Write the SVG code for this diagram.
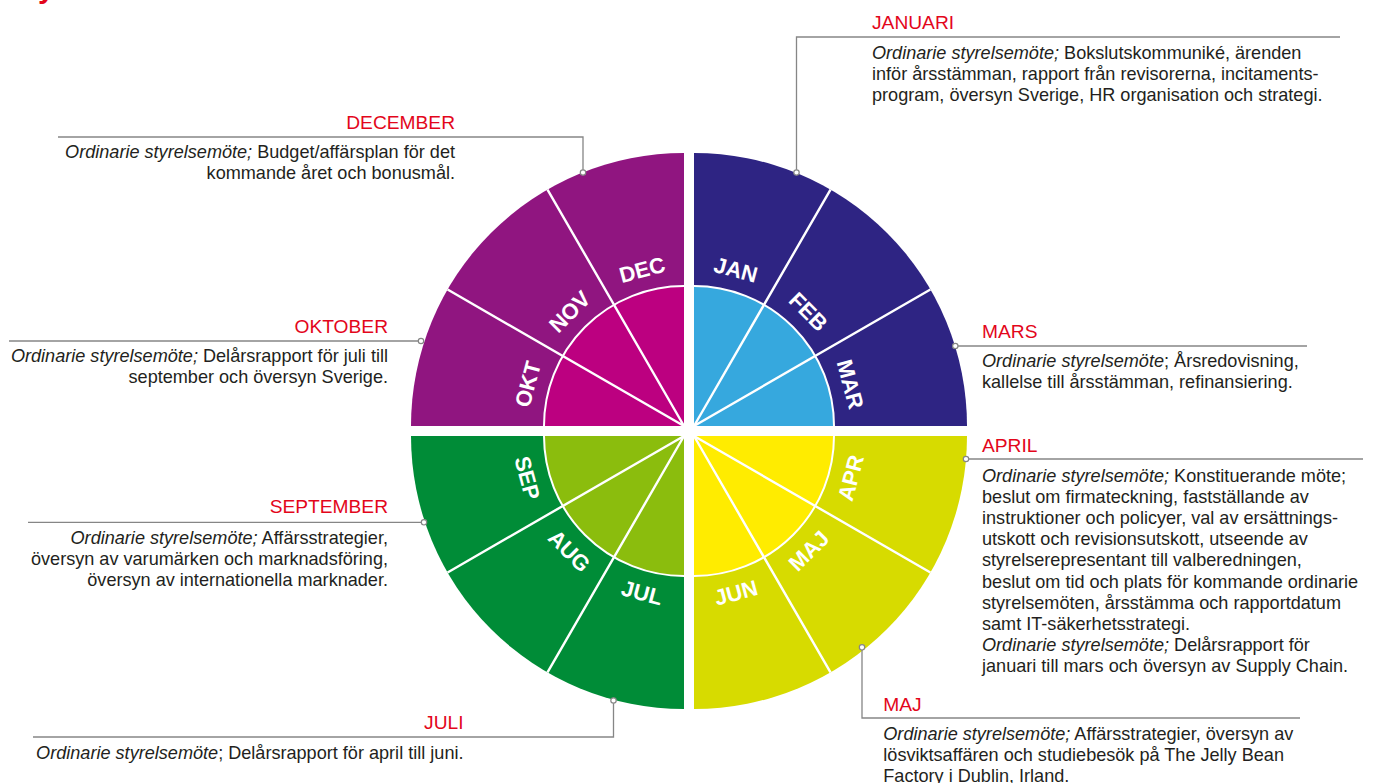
<svg xmlns="http://www.w3.org/2000/svg" width="1377" height="783" viewBox="0 0 1377 783">
<style>
  .m { font-family: "Liberation Sans", Arial, sans-serif; font-weight: bold; font-size: 22px; fill: #ffffff; text-anchor: middle; }
  .h { font-family: "Liberation Sans", Arial, sans-serif; font-size: 19.2px; fill: #e3061b; }
  .b { font-family: "Liberation Sans", Arial, sans-serif; font-size: 18.1px; fill: #231f20; }
  .i { font-style: italic; }
  .end { text-anchor: end; }
  .div { stroke: #ffffff; stroke-width: 2.4; fill: none; }
  .arc { stroke: #ffffff; stroke-width: 2; fill: none; }
  .con { stroke: #868686; stroke-width: 1.3; fill: none; }
  .dot { fill: #ffffff; stroke: #868686; stroke-width: 1.2; }
</style>
<rect width="1377" height="783" fill="#ffffff"/>
<text x="38" y="-2" style="font-family:'Liberation Sans',Arial,sans-serif;font-weight:bold;font-size:30px;fill:#e3061b">y</text>

<g id="wheel">
  <g id="q-winter">
    <path d="M694,426 V153 A273,273 0 0 1 967,426 Z" fill="#2e2483"/>
    <path d="M694,426 V286 A140,140 0 0 1 834,426 Z" fill="#36a8de"/>
    <path class="arc" d="M694,286 A140,140 0 0 1 834,426"/>
    <path class="div" d="M694,426 L830.5,189.6 M694,426 L930.4,289.5"/>
  </g>
  <g id="q-autumn">
    <path d="M684,426 H411 A273,273 0 0 1 684,153 Z" fill="#901580"/>
    <path d="M684,426 H544 A140,140 0 0 1 684,286 Z" fill="#bc0080"/>
    <path class="arc" d="M544,426 A140,140 0 0 1 684,286"/>
    <path class="div" d="M684,426 L447.6,289.5 M684,426 L547.5,189.6"/>
  </g>
  <g id="q-summer">
    <path d="M684,436 V709 A273,273 0 0 1 411,436 Z" fill="#008c37"/>
    <path d="M684,436 V576 A140,140 0 0 1 544,436 Z" fill="#8bbd0d"/>
    <path class="arc" d="M684,576 A140,140 0 0 1 544,436"/>
    <path class="div" d="M684,436 L547.5,672.4 M684,436 L447.6,572.5"/>
  </g>
  <g id="q-spring">
    <path d="M694,436 H967 A273,273 0 0 1 694,709 Z" fill="#d7db00"/>
    <path d="M694,436 H834 A140,140 0 0 1 694,576 Z" fill="#ffec00"/>
    <path class="arc" d="M834,436 A140,140 0 0 1 694,576"/>
    <path class="div" d="M694,436 L930.4,572.5 M694,436 L830.5,672.4"/>
  </g>
</g>

<g id="month-labels">
  <g id="m-jan"><text class="m" transform="translate(735.9,269.5) rotate(15)" y="7.9">JAN</text></g>
  <g id="m-feb"><text class="m" transform="translate(808.6,311.5) rotate(45)" y="7.9">FEB</text></g>
  <g id="m-mar"><text class="m" transform="translate(850.5,384.1) rotate(75)" y="7.9">MAR</text></g>
  <g id="m-apr"><text class="m" transform="translate(850.5,477.9) rotate(-75)" y="7.9">APR</text></g>
  <g id="m-maj"><text class="m" transform="translate(808.6,550.6) rotate(-45)" y="7.9">MAJ</text></g>
  <g id="m-jun"><text class="m" transform="translate(735.9,592.5) rotate(-15)" y="7.9">JUN</text></g>
  <g id="m-jul"><text class="m" transform="translate(642.1,592.5) rotate(15)" y="7.9">JUL</text></g>
  <g id="m-aug"><text class="m" transform="translate(569.5,550.6) rotate(45)" y="7.9">AUG</text></g>
  <g id="m-sep"><text class="m" transform="translate(527.5,477.9) rotate(75)" y="7.9">SEP</text></g>
  <g id="m-okt"><text class="m" transform="translate(527.5,384.1) rotate(-75)" y="7.9">OKT</text></g>
  <g id="m-nov"><text class="m" transform="translate(569.5,311.5) rotate(-45)" y="7.9">NOV</text></g>
  <g id="m-dec"><text class="m" transform="translate(642.1,269.5) rotate(-15)" y="7.9">DEC</text></g>
</g>

<g id="connectors">
  <path class="con" d="M796.5,172.5 V37 H1340"/>
  <path class="con" d="M583,172.5 V137 H58"/>
  <path class="con" d="M421,341 H9"/>
  <path class="con" d="M955.3,346 H1307"/>
  <path class="con" d="M966,459 H1363"/>
  <path class="con" d="M862,647.3 V718 H1300"/>
  <path class="con" d="M424,522.3 H28"/>
  <path class="con" d="M613.5,700.5 V737 H33"/>
  <circle class="dot" cx="796.5" cy="172.5" r="2.7"/>
  <circle class="dot" cx="583" cy="172.5" r="2.7"/>
  <circle class="dot" cx="421" cy="341" r="2.7"/>
  <circle class="dot" cx="955.3" cy="346" r="2.7"/>
  <circle class="dot" cx="966" cy="459" r="2.7"/>
  <circle class="dot" cx="862" cy="647.3" r="2.7"/>
  <circle class="dot" cx="424" cy="522.3" r="2.7"/>
  <circle class="dot" cx="613.5" cy="700.5" r="2.7"/>
</g>

<g id="note-januari">
  <text class="h" x="872" y="29">JANUARI</text>
  <text class="b" x="872" y="58.5"><tspan class="i">Ordinarie styrelsemöte;</tspan> Bokslutskommuniké, ärenden</text>
  <text class="b" x="872" y="79.5">inför årsstämman, rapport från revisorerna, incitaments-</text>
  <text class="b" x="872" y="100.5">program, översyn Sverige, HR organisation och strategi.</text>
</g>

<g id="note-december">
  <text class="h end" x="455" y="129.3">DECEMBER</text>
  <text class="b end" x="455" y="158"><tspan class="i">Ordinarie styrelsemöte;</tspan> Budget/affärsplan för det</text>
  <text class="b end" x="455" y="178.8">kommande året och bonusmål.</text>
</g>

<g id="note-oktober">
  <text class="h end" x="388" y="332.7">OKTOBER</text>
  <text class="b end" x="388" y="362.3"><tspan class="i">Ordinarie styrelsemöte;</tspan> Delårsrapport för juli till</text>
  <text class="b end" x="388" y="383.3">september och översyn Sverige.</text>
</g>

<g id="note-mars">
  <text class="h" x="982" y="337.5">MARS</text>
  <text class="b" x="982" y="367"><tspan class="i">Ordinarie styrelsemöte</tspan>; Årsredovisning,</text>
  <text class="b" x="982" y="388">kallelse till årsstämman, refinansiering.</text>
</g>

<g id="note-april">
  <text class="h" x="982" y="452">APRIL</text>
  <text class="b" x="982" y="482"><tspan class="i">Ordinarie styrelsemöte;</tspan> Konstituerande möte;</text>
  <text class="b" x="982" y="503.1">beslut om firmateckning, fastställande av</text>
  <text class="b" x="982" y="524.2">instruktioner och policyer, val av ersättnings-</text>
  <text class="b" x="982" y="545.3">utskott och revisionsutskott, utseende av</text>
  <text class="b" x="982" y="566.4">styrelserepresentant till valberedningen,</text>
  <text class="b" x="982" y="587.5">beslut om tid och plats för kommande ordinarie</text>
  <text class="b" x="982" y="608.6">styrelsemöten, årsstämma och rapportdatum</text>
  <text class="b" x="982" y="629.7">samt IT-säkerhetsstrategi.</text>
  <text class="b" x="982" y="650.8"><tspan class="i">Ordinarie styrelsemöte;</tspan> Delårsrapport för</text>
  <text class="b" x="982" y="671.9">januari till mars och översyn av Supply Chain.</text>
</g>

<g id="note-maj">
  <text class="h" x="883.3" y="710.5">MAJ</text>
  <text class="b" x="883.3" y="739.5"><tspan class="i">Ordinarie styrelsemöte;</tspan> Affärsstrategier, översyn av</text>
  <text class="b" x="883.3" y="760.5">lösviktsaffären och studiebesök på The Jelly Bean</text>
  <text class="b" x="883.3" y="781.5">Factory i Dublin, Irland.</text>
</g>

<g id="note-september">
  <text class="h end" x="388" y="513.3">SEPTEMBER</text>
  <text class="b end" x="388" y="544.3"><tspan class="i">Ordinarie styrelsemöte;</tspan> Affärsstrategier,</text>
  <text class="b end" x="388" y="565">översyn av varumärken och marknadsföring,</text>
  <text class="b end" x="388" y="585.7">översyn av internationella marknader.</text>
</g>

<g id="note-juli">
  <text class="h end" x="463.5" y="729">JULI</text>
  <text class="b end" x="463.5" y="758.5"><tspan class="i">Ordinarie styrelsemöte</tspan>; Delårsrapport för april till juni.</text>
</g>
</svg>
